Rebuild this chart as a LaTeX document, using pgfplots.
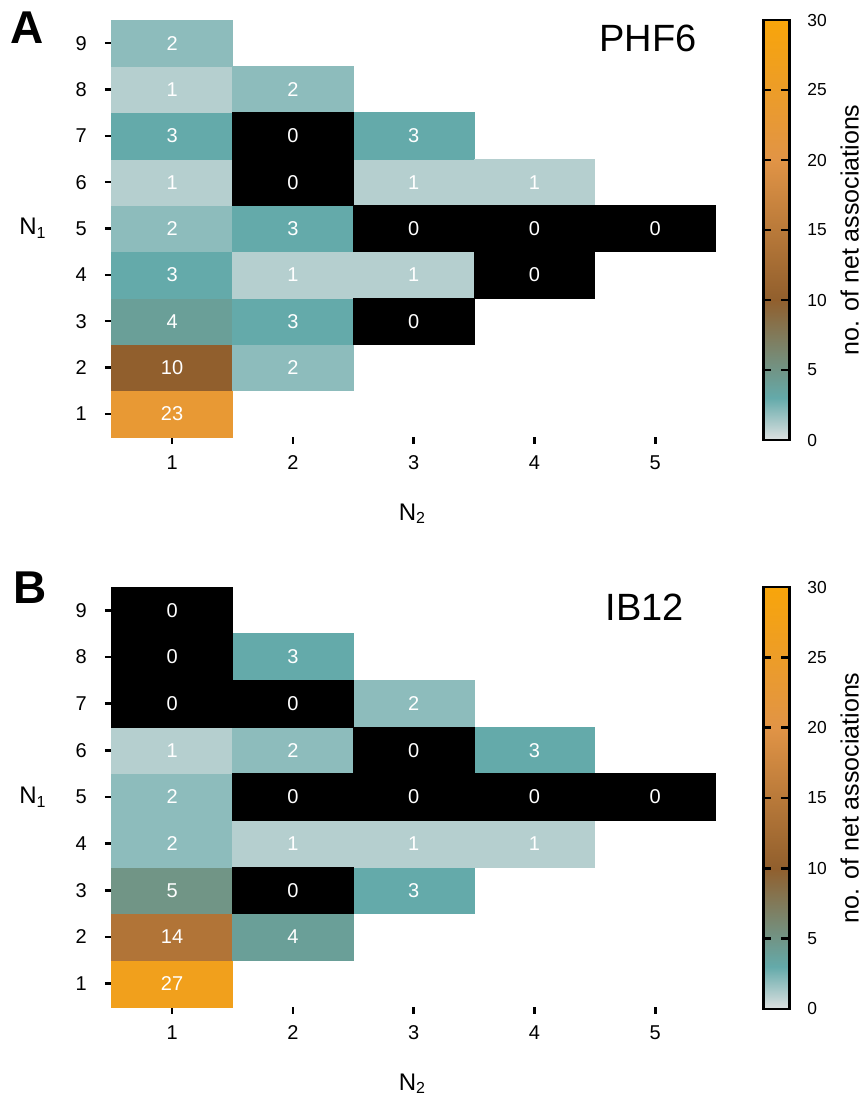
\documentclass[border=0pt]{standalone}
\usepackage{pgfplots}
\usepackage{pgfplotstable}
\pgfplotsset{compat=1.18}
\usepackage{fontspec}
\setmainfont{Liberation Sans}

\pgfdeclareplotmark{cellA}{\pgfpathrectangle{\pgfpoint{-30.2pt}{-11.585pt}}{\pgfpoint{60.4pt}{23.17pt}}\pgfusepathqfillstroke}
\pgfdeclareplotmark{cellB}{\pgfpathrectangle{\pgfpoint{-30.2pt}{-11.667pt}}{\pgfpoint{60.4pt}{23.333pt}}\pgfusepathqfillstroke}

% panel A (PHF6): x = N2, y = N1, c = no. of net associations
\pgfplotstableread{
x y c
1 1 23
1 2 10
1 3 4
1 4 3
1 5 2
1 6 1
1 7 3
1 8 1
1 9 2
2 2 2
2 3 3
2 4 1
2 5 3
2 8 2
3 4 1
3 6 1
3 7 3
4 6 1
}\dataA
\pgfplotstableread{
x y c
2 6 0
2 7 0
3 3 0
3 5 0
4 4 0
4 5 0
5 5 0
}\zeroA
% panel B (IB12)
\pgfplotstableread{
x y c
1 1 27
1 2 14
1 3 5
1 4 2
1 5 2
1 6 1
2 2 4
2 4 1
2 6 2
2 8 3
3 3 3
3 4 1
3 7 2
4 4 1
4 6 3
}\dataB
\pgfplotstableread{
x y c
1 7 0
1 8 0
1 9 0
2 3 0
2 5 0
2 7 0
3 5 0
3 6 0
4 5 0
5 5 0
}\zeroB

\pgfplotsset{
  heat/.style={
    scale only axis, width=302pt,
    xmin=0.5, xmax=5.5, ymin=0.5, ymax=9.5,
    xtick={1,2,3,4,5}, ytick={1,2,3,4,5,6,7,8,9},
    axis x line*=bottom, axis y line*=left,
    axis line style={draw=none},
    tick align=outside, major tick length=3.4pt,
    tick style={black, line width=1.3pt},
    ticklabel style={font=\fontsize{10}{12}\selectfont},
    xticklabel style={yshift=-2.5pt},
    yticklabel style={xshift=-5.5pt},
    /pgf/number format/assume math mode=true,
    colormap={heatmap}{rgb255(0cm)=(222,225,225) rgb255(3cm)=(100,170,170) rgb255(10cm)=(145,95,45) rgb255(20cm)=(225,148,70) rgb255(30cm)=(248,165,10)},
    point meta min=0, point meta max=30,
    colorbar,
    colorbar style={
      at={(parent axis.north east)}, anchor=north west, xshift=15.3pt,
      width=13pt,
      axis lines=box,
      axis line style={draw=black, line width=1.2pt},
      xtick=\empty, xlabel={},
      ytick={0,5,10,15,20,25,30},
      tick pos=both, yticklabel pos=right,
      tick align=inside, major tick length=4pt,
      tick style={black, line width=1.2pt},
      /pgf/number format/assume math mode=true,
      yticklabel style={font=\fontsize{8.7}{10}\selectfont, xshift=5.5pt},
      ylabel={no. of net associations},
      ylabel style={font=\fontsize{12.5}{14}\selectfont, rotate=0},
    },
  },
  cellnum/.style={
    only marks, mark=none,
    nodes near coords,
    nodes near coords style={anchor=center, text=white, font=\fontsize{10}{12}\selectfont},
  },
}

\begin{document}
\begin{tikzpicture}
\path[use as bounding box] (0,0) rectangle (431.5pt,-550pt);

\begin{axis}[heat, name=A, height=208.5pt, at={(55.85pt,-10pt)}, anchor=north west,
  colorbar style={height=210pt}]
\addplot[only marks, mark=cellA, point meta=explicit, scatter,
  scatter/use mapped color={draw=mapped color, fill=mapped color}] table[x=x, y=y, meta=c] {\dataA};
\addplot[only marks, mark=cellA, mark options={fill=black, draw=black}] table[x=x, y=y] {\zeroA};
\addplot[cellnum, point meta=explicit] table[x=x, y=y, meta=c] {\dataA};
\addplot[cellnum, point meta=explicit] table[x=x, y=y, meta=c] {\zeroA};
\end{axis}

\begin{axis}[heat, name=B, height=210pt, at={(55.85pt,-293.5pt)}, anchor=north west,
  colorbar style={height=211pt}]
\addplot[only marks, mark=cellB, point meta=explicit, scatter,
  scatter/use mapped color={draw=mapped color, fill=mapped color}] table[x=x, y=y, meta=c] {\dataB};
\addplot[only marks, mark=cellB, mark options={fill=black, draw=black}] table[x=x, y=y] {\zeroB};
\addplot[cellnum, point meta=explicit] table[x=x, y=y, meta=c] {\dataB};
\addplot[cellnum, point meta=explicit] table[x=x, y=y, meta=c] {\zeroB};
\end{axis}

% panel letters and titles
\node[font=\fontsize{23}{25}\selectfont\bfseries] at (13.5pt,-14pt) {A};
\node[font=\fontsize{23}{25}\selectfont\bfseries] at (15pt,-294pt) {B};
\node[font=\fontsize{19}{21}\selectfont] at (324pt,-19.25pt) {PHF6};
\node[font=\fontsize{19}{21}\selectfont] at (322.5pt,-303.5pt) {IB12};
% axis titles
\node[font=\fontsize{12}{14}\selectfont] at (16.5pt,-114.25pt) {N\textsubscript{1}};
\node[font=\fontsize{12}{14}\selectfont] at (16.5pt,-398.5pt) {N\textsubscript{1}};
\node[font=\fontsize{12}{14}\selectfont, anchor=base] at (206.25pt,-260pt) {N\textsubscript{2}};
\node[font=\fontsize{12}{14}\selectfont, anchor=base] at (206.25pt,-545pt) {N\textsubscript{2}};
\end{tikzpicture}
\end{document}
